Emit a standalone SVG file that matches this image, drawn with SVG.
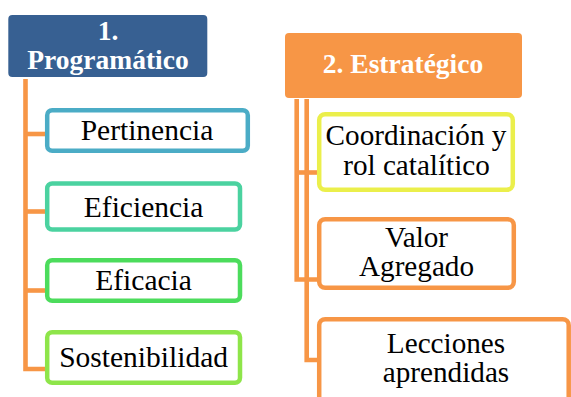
<svg xmlns="http://www.w3.org/2000/svg" width="571" height="397" viewBox="0 0 571 397">
<style>
.hdr{font-family:"Liberation Serif","Times New Roman",serif;font-weight:bold;font-size:27.5px;fill:#ffffff;text-anchor:middle}
.lbl{font-family:"Liberation Serif","Times New Roman",serif;font-size:29.5px;fill:#000000;text-anchor:middle}
.lbr{font-family:"Liberation Serif","Times New Roman",serif;font-size:29.2px;fill:#000000;text-anchor:middle}
.box{fill:#ffffff;stroke-width:4.5}
.conn{fill:none;stroke:#F79646;stroke-width:4.6}
</style>
<rect width="571" height="397" fill="#ffffff"/>
<g id="connectors">
<path class="conn" d="M25.5,79 V369 H47"/>
<path class="conn" d="M25.5,134 H47"/>
<path class="conn" d="M25.5,211.5 H47"/>
<path class="conn" d="M25.5,290.5 H47"/>
<path class="conn" d="M296.7,99 V279.5 H319"/>
<path class="conn" d="M296.7,172.5 H319"/>
<path class="conn" d="M306.7,99 V360 H319"/>
</g>
<g id="programatico">
<rect x="8.3" y="15" width="199" height="62" rx="4" fill="#376092"/>
<text class="hdr" x="108" y="40">1.</text>
<text class="hdr" x="108" y="68.5">Programático</text>
</g>
<g id="estrategico">
<rect x="285" y="33" width="237" height="65" rx="4" fill="#F79646"/>
<text class="hdr" x="403" y="73.3">2. Estratégico</text>
</g>
<g id="pertinencia">
<rect class="box" x="47.2" y="110.2" width="200.6" height="40.6" rx="5" stroke="#4BACC6"/>
<text class="lbl" x="147" y="140">Pertinencia</text>
</g>
<g id="eficiencia">
<rect class="box" x="47.2" y="183.5" width="192.8" height="46" rx="5" stroke="#4BD2A0"/>
<text class="lbl" x="143.6" y="216.7">Eficiencia</text>
</g>
<g id="eficacia">
<rect class="box" x="47.2" y="260.2" width="192.8" height="40.6" rx="5" stroke="#4CDC5C"/>
<text class="lbl" x="143.6" y="290">Eficacia</text>
</g>
<g id="sostenibilidad">
<rect class="box" x="47.2" y="332.2" width="192.8" height="50.6" rx="5" stroke="#8EE54A"/>
<text class="lbl" x="143.6" y="366.7">Sostenibilidad</text>
</g>
<g id="coordinacion">
<rect class="box" x="319.2" y="114.2" width="193.6" height="75.6" rx="6" stroke="#EBEF4B"/>
<text class="lbr" x="416" y="145">Coordinación y</text>
<text class="lbr" x="416.5" y="175">rol catalítico</text>
</g>
<g id="valor">
<rect class="box" x="319.2" y="219.2" width="194.6" height="68.6" rx="6" stroke="#F79646"/>
<text class="lbr" x="416.5" y="247">Valor</text>
<text class="lbr" x="416.5" y="276">Agregado</text>
</g>
<g id="lecciones">
<rect class="box" x="319.2" y="319.2" width="249.5" height="100" rx="6" stroke="#F79646"/>
<text class="lbr" x="446" y="353">Lecciones</text>
<text class="lbr" x="446" y="382">aprendidas</text>
</g>
</svg>
